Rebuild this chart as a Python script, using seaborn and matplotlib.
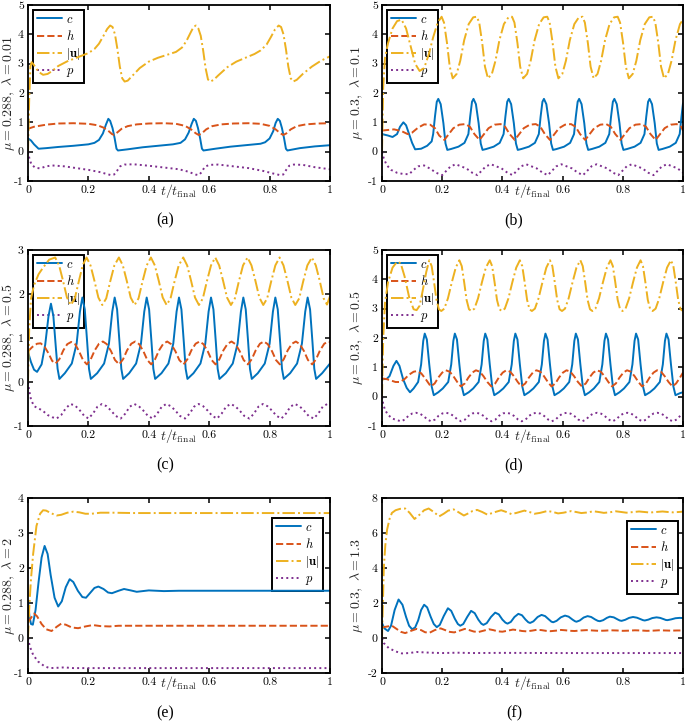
import matplotlib
matplotlib.use("Agg")
import matplotlib.pyplot as plt
import seaborn as sns

# ---------------- data ----------------
# (a) mu = 0.288, lambda = 0.01
a_c_t = [0, 0.01, 0.02, 0.035, 0.06, 0.1, 0.15, 0.2, 0.22, 0.235, 0.248, 0.258, 0.266, 0.272, 0.28, 0.287,
         0.293, 0.298, 0.33, 0.38, 0.43, 0.48, 0.505, 0.52, 0.532, 0.542, 0.549, 0.556, 0.563, 0.57, 0.576,
         0.581, 0.62, 0.67, 0.72, 0.77, 0.785, 0.8, 0.812, 0.82, 0.827, 0.834, 0.841, 0.848, 0.854, 0.859,
         0.9, 0.95, 1.0]
a_c = [0.45, 0.38, 0.25, 0.1, 0.12, 0.16, 0.2, 0.25, 0.3, 0.4, 0.62, 0.92, 1.12, 1.05, 0.8, 0.45,
       0.1, 0.04, 0.08, 0.15, 0.2, 0.25, 0.3, 0.42, 0.65, 0.95, 1.12, 1.05, 0.8, 0.45, 0.1,
       0.04, 0.1, 0.17, 0.22, 0.27, 0.32, 0.45, 0.7, 0.98, 1.12, 1.05, 0.8, 0.45, 0.1, 0.04,
       0.12, 0.18, 0.22]
a_h_t = [0, 0.02, 0.06, 0.1, 0.15, 0.2, 0.23, 0.25, 0.265, 0.278, 0.285, 0.295, 0.31, 0.33, 0.36, 0.4,
         0.45, 0.49, 0.52, 0.54, 0.555, 0.565, 0.575, 0.59, 0.61, 0.64, 0.68, 0.73, 0.77, 0.8, 0.82,
         0.835, 0.845, 0.855, 0.87, 0.89, 0.92, 0.96, 1.0]
a_h = [0.78, 0.85, 0.92, 0.96, 0.97, 0.95, 0.9, 0.82, 0.72, 0.6, 0.57, 0.65, 0.78, 0.87, 0.93, 0.96,
       0.97, 0.95, 0.88, 0.76, 0.63, 0.57, 0.62, 0.76, 0.87, 0.93, 0.96, 0.97, 0.95, 0.88, 0.76,
       0.63, 0.57, 0.62, 0.76, 0.87, 0.93, 0.96, 0.97]
a_u_t = [0, 0.004, 0.008, 0.012, 0.02, 0.035, 0.05, 0.065, 0.08, 0.1, 0.13, 0.17, 0.2, 0.22, 0.235, 0.25,
         0.262, 0.272, 0.28, 0.288, 0.296, 0.304, 0.312, 0.32, 0.33, 0.345, 0.37, 0.4, 0.43, 0.46, 0.49,
         0.51, 0.525, 0.538, 0.548, 0.556, 0.564, 0.572, 0.58, 0.588, 0.596, 0.604, 0.615, 0.63, 0.66,
         0.69, 0.72, 0.75, 0.77, 0.79, 0.805, 0.818, 0.83, 0.838, 0.846, 0.854, 0.862, 0.87, 0.878, 0.89,
         0.91, 0.94, 0.97, 1.0]
a_u = [0, 1.8, 2.9, 3.05, 2.95, 2.72, 2.62, 2.65, 2.75, 2.92, 3.08, 3.24, 3.36, 3.5, 3.68, 3.95,
       4.18, 4.3, 4.25, 4.0, 3.5, 2.9, 2.5, 2.39, 2.42, 2.58, 2.85, 3.07, 3.2, 3.3, 3.4,
       3.55, 3.78, 4.05, 4.25, 4.3, 4.2, 3.95, 3.45, 2.85, 2.46, 2.39, 2.45, 2.6, 2.88,
       3.07, 3.2, 3.33, 3.45, 3.65, 3.92, 4.17, 4.3, 4.25, 4.0, 3.5, 2.9, 2.5, 2.39, 2.45,
       2.65, 2.9, 3.1, 3.25]
a_p_t = [0, 0.005, 0.012, 0.025, 0.04, 0.06, 0.08, 0.12, 0.16, 0.2, 0.24, 0.26, 0.275, 0.285, 0.295,
         0.305, 0.32, 0.35, 0.4, 0.45, 0.5, 0.53, 0.555, 0.565, 0.575, 0.585, 0.6, 0.63, 0.68, 0.73,
         0.78, 0.81, 0.835, 0.845, 0.855, 0.865, 0.88, 0.91, 0.95, 1.0]
a_p = [0, -0.25, -0.45, -0.55, -0.57, -0.5, -0.47, -0.5, -0.56, -0.62, -0.7, -0.76, -0.8, -0.78, -0.65,
       -0.5, -0.44, -0.43, -0.48, -0.54, -0.6, -0.68, -0.78, -0.8, -0.7, -0.52, -0.45, -0.44, -0.5, -0.56,
       -0.66, -0.74, -0.8, -0.78, -0.62, -0.48, -0.44, -0.45, -0.53, -0.6]

# (b) mu = 0.3, lambda = 0.1
b_c_t = [0, 0.02, 0.035, 0.05, 0.06, 0.071, 0.08, 0.09, 0.1, 0.11, 0.13, 0.15, 0.165, 0.17, 0.176, 0.182,
         0.187, 0.195, 0.204, 0.211, 0.217,
         0.229, 0.254, 0.274, 0.287, 0.293, 0.299, 0.304, 0.312, 0.321, 0.328, 0.334,
         0.346, 0.371, 0.391, 0.404, 0.41, 0.416, 0.421, 0.429, 0.438, 0.445, 0.451,
         0.463, 0.488, 0.508, 0.521, 0.527, 0.533, 0.538, 0.546, 0.555, 0.562, 0.568,
         0.58, 0.605, 0.625, 0.638, 0.644, 0.65, 0.655, 0.663, 0.672, 0.679, 0.685,
         0.697, 0.722, 0.742, 0.755, 0.761, 0.767, 0.772, 0.78, 0.789, 0.796, 0.802,
         0.814, 0.839, 0.859, 0.872, 0.878, 0.884, 0.889, 0.897, 0.906, 0.913, 0.919,
         0.931, 0.956, 0.976, 0.989, 0.995, 1.0]
b_c = [0.6, 0.55, 0.5, 0.6, 0.85, 1.0, 0.9, 0.6, 0.3, 0.08, 0.1, 0.2, 0.35, 0.6, 1.2, 1.7,
       1.8, 1.62, 0.97, 0.28, 0.06,
       0.09, 0.17, 0.3, 0.6, 1.2, 1.7, 1.8, 1.62, 0.97, 0.28, 0.06,
       0.09, 0.17, 0.3, 0.6, 1.2, 1.7, 1.8, 1.62, 0.97, 0.28, 0.06,
       0.09, 0.17, 0.3, 0.6, 1.2, 1.7, 1.8, 1.62, 0.97, 0.28, 0.06,
       0.09, 0.17, 0.3, 0.6, 1.2, 1.7, 1.8, 1.62, 0.97, 0.28, 0.06,
       0.09, 0.17, 0.3, 0.6, 1.2, 1.7, 1.8, 1.62, 0.97, 0.28, 0.06,
       0.09, 0.17, 0.3, 0.6, 1.2, 1.7, 1.8, 1.62, 0.97, 0.28, 0.06,
       0.09, 0.17, 0.3, 0.6, 1.2, 1.65]
b_h_t = [0, 0.04, 0.065, 0.085, 0.1, 0.12, 0.14, 0.16, 0.176, 0.19,
         0.207, 0.222, 0.237, 0.257, 0.277, 0.292, 0.307,
         0.324, 0.339, 0.354, 0.374, 0.394, 0.409, 0.424,
         0.441, 0.456, 0.471, 0.491, 0.511, 0.526, 0.541,
         0.558, 0.573, 0.588, 0.608, 0.628, 0.643, 0.658,
         0.675, 0.69, 0.705, 0.725, 0.745, 0.76, 0.775,
         0.792, 0.807, 0.822, 0.842, 0.862, 0.877, 0.892,
         0.909, 0.924, 0.939, 0.959, 0.979, 0.994, 1.0]
b_h = [0.72, 0.76, 0.7, 0.6, 0.65, 0.82, 0.93, 0.92, 0.8, 0.55,
       0.4, 0.6, 0.8, 0.92, 0.94, 0.85, 0.6,
       0.4, 0.6, 0.8, 0.92, 0.94, 0.85, 0.6,
       0.4, 0.6, 0.8, 0.92, 0.94, 0.85, 0.6,
       0.4, 0.6, 0.8, 0.92, 0.94, 0.85, 0.6,
       0.4, 0.6, 0.8, 0.92, 0.94, 0.85, 0.6,
       0.4, 0.6, 0.8, 0.92, 0.94, 0.85, 0.6,
       0.4, 0.6, 0.8, 0.92, 0.94, 0.85, 0.72]
b_u_t = [0, 0.004, 0.01, 0.02, 0.035, 0.05, 0.065, 0.08, 0.095, 0.11, 0.125, 0.14, 0.155, 0.17, 0.185,
         0.198, 0.206, 0.216, 0.225, 0.235, 0.248, 0.26, 0.273, 0.288, 0.303,
         0.315, 0.323, 0.333, 0.342, 0.352, 0.365, 0.377, 0.39, 0.405, 0.42,
         0.432, 0.44, 0.45, 0.459, 0.469, 0.482, 0.494, 0.507, 0.522, 0.537,
         0.549, 0.557, 0.567, 0.576, 0.586, 0.599, 0.611, 0.624, 0.639, 0.654,
         0.666, 0.674, 0.684, 0.693, 0.703, 0.716, 0.728, 0.741, 0.756, 0.771,
         0.783, 0.791, 0.801, 0.81, 0.82, 0.833, 0.845, 0.858, 0.873, 0.888,
         0.9, 0.908, 0.918, 0.927, 0.937, 0.95, 0.962, 0.975, 0.99, 1.0]
b_u = [0, 2.2, 3.2, 3.7, 4.2, 4.45, 4.5, 4.2, 3.6, 3.0, 2.75, 2.85, 3.3, 3.9, 4.4,
       4.6, 4.4, 3.7, 2.9, 2.5, 2.65, 3.1, 3.8, 4.35, 4.58,
       4.6, 4.4, 3.7, 2.9, 2.5, 2.65, 3.1, 3.8, 4.35, 4.58,
       4.6, 4.4, 3.7, 2.9, 2.5, 2.65, 3.1, 3.8, 4.35, 4.58,
       4.6, 4.4, 3.7, 2.9, 2.5, 2.65, 3.1, 3.8, 4.35, 4.58,
       4.6, 4.4, 3.7, 2.9, 2.5, 2.65, 3.1, 3.8, 4.35, 4.58,
       4.6, 4.4, 3.7, 2.9, 2.5, 2.65, 3.1, 3.8, 4.35, 4.58,
       4.6, 4.4, 3.7, 2.9, 2.5, 2.65, 3.1, 3.8, 4.35, 4.5]
b_p_t = [0, 0.005, 0.015, 0.03, 0.05, 0.07, 0.09, 0.105, 0.12, 0.14, 0.16, 0.18,
         0.2, 0.228, 0.245, 0.28, 0.3,
         0.317, 0.345, 0.362, 0.397, 0.417,
         0.434, 0.462, 0.479, 0.514, 0.534,
         0.551, 0.579, 0.596, 0.631, 0.651,
         0.668, 0.696, 0.713, 0.748, 0.768,
         0.785, 0.813, 0.83, 0.865, 0.885,
         0.902, 0.93, 0.947, 0.982, 1.0]
b_p = [0, -0.2, -0.45, -0.62, -0.72, -0.76, -0.77, -0.62, -0.5, -0.47, -0.58, -0.72,
       -0.8, -0.5, -0.43, -0.57, -0.72,
       -0.8, -0.5, -0.43, -0.57, -0.72,
       -0.8, -0.5, -0.43, -0.57, -0.72,
       -0.8, -0.5, -0.43, -0.57, -0.72,
       -0.8, -0.5, -0.43, -0.57, -0.72,
       -0.8, -0.5, -0.43, -0.57, -0.72,
       -0.8, -0.5, -0.43, -0.57, -0.72]

# (c) mu = 0.288, lambda = 0.5
c_c_t = [0, 0.01, 0.02, 0.03, 0.045, 0.057, 0.068, 0.076, 0.084, 0.092, 0.098, 0.104,
         0.122, 0.145, 0.161, 0.172, 0.18, 0.188, 0.196, 0.202, 0.208,
         0.229, 0.252, 0.268, 0.279, 0.287, 0.295, 0.303, 0.309, 0.315,
         0.335, 0.358, 0.374, 0.385, 0.393, 0.401, 0.409, 0.415, 0.421,
         0.442, 0.465, 0.481, 0.492, 0.5, 0.508, 0.516, 0.522, 0.528,
         0.548, 0.571, 0.587, 0.598, 0.606, 0.614, 0.622, 0.628, 0.634,
         0.655, 0.678, 0.694, 0.705, 0.713, 0.721, 0.729, 0.735, 0.741,
         0.761, 0.784, 0.8, 0.811, 0.819, 0.827, 0.835, 0.841, 0.847,
         0.868, 0.891, 0.907, 0.918, 0.926, 0.934, 0.942, 0.948, 0.954,
         0.974, 1.0]
c_c = [0.68, 0.45, 0.28, 0.23, 0.4, 0.85, 1.5, 1.78, 1.5, 0.8, 0.3, 0.07,
       0.2, 0.42, 0.87, 1.6, 1.92, 1.65, 0.9, 0.3, 0.07,
       0.2, 0.42, 0.87, 1.6, 1.92, 1.65, 0.9, 0.3, 0.07,
       0.2, 0.42, 0.87, 1.6, 1.92, 1.65, 0.9, 0.3, 0.07,
       0.2, 0.42, 0.87, 1.6, 1.92, 1.65, 0.9, 0.3, 0.07,
       0.2, 0.42, 0.87, 1.6, 1.92, 1.65, 0.9, 0.3, 0.07,
       0.2, 0.42, 0.87, 1.6, 1.92, 1.65, 0.9, 0.3, 0.07,
       0.2, 0.42, 0.87, 1.6, 1.92, 1.65, 0.9, 0.3, 0.07,
       0.2, 0.42, 0.87, 1.6, 1.92, 1.65, 0.9, 0.3, 0.07,
       0.2, 0.42]
c_h_t = [0, 0.015, 0.03, 0.042, 0.055, 0.068, 0.08, 0.091, 0.104, 0.117, 0.13, 0.143, 0.156, 0.169, 0.182,
         0.195, 0.208, 0.221, 0.235, 0.248, 0.261, 0.275, 0.288,
         0.302, 0.315, 0.328, 0.342, 0.355, 0.368, 0.382, 0.395,
         0.408, 0.421, 0.434, 0.448, 0.461, 0.474, 0.488, 0.501,
         0.515, 0.528, 0.541, 0.555, 0.568, 0.581, 0.595, 0.608,
         0.621, 0.634, 0.647, 0.661, 0.674, 0.687, 0.701, 0.714,
         0.728, 0.741, 0.754, 0.768, 0.781, 0.794, 0.808, 0.821,
         0.834, 0.847, 0.86, 0.874, 0.887, 0.9, 0.914, 0.927,
         0.941, 0.954, 0.967, 0.981, 0.994, 1.0]
c_h = [0.7, 0.8, 0.87, 0.88, 0.8, 0.65, 0.48, 0.42, 0.52, 0.72, 0.86, 0.91, 0.86, 0.7, 0.5,
       0.4, 0.52, 0.72, 0.87, 0.92, 0.86, 0.7, 0.5,
       0.4, 0.52, 0.72, 0.87, 0.92, 0.86, 0.7, 0.5,
       0.4, 0.52, 0.72, 0.87, 0.92, 0.86, 0.7, 0.5,
       0.4, 0.52, 0.72, 0.87, 0.92, 0.86, 0.7, 0.5,
       0.4, 0.52, 0.72, 0.87, 0.92, 0.86, 0.7, 0.5,
       0.4, 0.52, 0.72, 0.87, 0.92, 0.86, 0.7, 0.5,
       0.4, 0.52, 0.72, 0.87, 0.92, 0.86, 0.7, 0.5,
       0.4, 0.52, 0.72, 0.87, 0.92, 0.91]
c_u_t = [0, 0.004, 0.01, 0.02, 0.035, 0.05, 0.07, 0.09, 0.103, 0.116, 0.129, 0.142, 0.155, 0.168, 0.181,
         0.194, 0.207, 0.22, 0.233, 0.246, 0.259, 0.272, 0.286,
         0.301, 0.314, 0.327, 0.34, 0.353, 0.366, 0.379, 0.393,
         0.407, 0.42, 0.433, 0.446, 0.459, 0.472, 0.485, 0.499,
         0.514, 0.527, 0.54, 0.553, 0.566, 0.579, 0.592, 0.606,
         0.62, 0.633, 0.646, 0.659, 0.672, 0.685, 0.698, 0.712,
         0.727, 0.74, 0.753, 0.766, 0.779, 0.792, 0.805, 0.819,
         0.833, 0.846, 0.859, 0.872, 0.885, 0.898, 0.911, 0.925,
         0.94, 0.953, 0.966, 0.979, 0.99, 1.0]
c_u = [0, 1.2, 1.9, 2.2, 2.45, 2.6, 2.78, 2.83, 2.65, 2.3, 1.92, 1.75, 1.9, 2.28, 2.65,
       2.83, 2.65, 2.3, 1.92, 1.75, 1.9, 2.28, 2.65,
       2.83, 2.65, 2.3, 1.92, 1.75, 1.9, 2.28, 2.65,
       2.83, 2.65, 2.3, 1.92, 1.75, 1.9, 2.28, 2.65,
       2.83, 2.65, 2.3, 1.92, 1.75, 1.9, 2.28, 2.65,
       2.83, 2.65, 2.3, 1.92, 1.75, 1.9, 2.28, 2.65,
       2.83, 2.65, 2.3, 1.92, 1.75, 1.9, 2.28, 2.65,
       2.83, 2.65, 2.3, 1.92, 1.75, 1.9, 2.28, 2.65,
       2.83, 2.65, 2.3, 1.9, 1.76, 1.95]
c_p_t = [0, 0.004, 0.01, 0.02, 0.035, 0.05, 0.065, 0.08, 0.095, 0.11, 0.125, 0.14, 0.155, 0.17, 0.185,
         0.2, 0.215, 0.23, 0.245, 0.26, 0.275, 0.29,
         0.307, 0.322, 0.337, 0.352, 0.367, 0.382, 0.397,
         0.413, 0.428, 0.443, 0.458, 0.473, 0.488, 0.503,
         0.52, 0.535, 0.55, 0.565, 0.58, 0.595, 0.61,
         0.626, 0.641, 0.656, 0.671, 0.686, 0.701, 0.716,
         0.733, 0.748, 0.763, 0.778, 0.793, 0.808, 0.823,
         0.839, 0.854, 0.869, 0.884, 0.899, 0.914, 0.929,
         0.946, 0.961, 0.976, 0.991, 1.0]
c_p = [0, -0.2, -0.4, -0.55, -0.6, -0.66, -0.75, -0.8, -0.83, -0.75, -0.6, -0.5, -0.53, -0.63, -0.76,
       -0.83, -0.72, -0.56, -0.5, -0.55, -0.65, -0.77,
       -0.83, -0.72, -0.56, -0.5, -0.55, -0.65, -0.77,
       -0.83, -0.72, -0.56, -0.5, -0.55, -0.65, -0.77,
       -0.83, -0.72, -0.56, -0.5, -0.55, -0.65, -0.77,
       -0.83, -0.72, -0.56, -0.5, -0.55, -0.65, -0.77,
       -0.83, -0.72, -0.56, -0.5, -0.55, -0.65, -0.77,
       -0.83, -0.72, -0.56, -0.5, -0.55, -0.65, -0.77,
       -0.83, -0.72, -0.56, -0.5, -0.53]

# (d) mu = 0.3, lambda = 0.5
d_c_t = [0, 0.015, 0.025, 0.038, 0.048, 0.058, 0.07, 0.082, 0.093, 0.105, 0.12, 0.13, 0.137,
         0.142, 0.149, 0.157, 0.165, 0.172,
         0.187, 0.202, 0.22, 0.23, 0.237, 0.242, 0.249, 0.257, 0.265, 0.272,
         0.288, 0.303, 0.321, 0.331, 0.338, 0.343, 0.35, 0.358, 0.366, 0.373,
         0.388, 0.403, 0.421, 0.431, 0.438, 0.443, 0.45, 0.458, 0.466, 0.473,
         0.488, 0.503, 0.521, 0.531, 0.538, 0.543, 0.55, 0.558, 0.566, 0.573,
         0.589, 0.604, 0.622, 0.632, 0.639, 0.644, 0.651, 0.659, 0.667, 0.674,
         0.689, 0.704, 0.722, 0.732, 0.739, 0.744, 0.751, 0.759, 0.767, 0.774,
         0.789, 0.804, 0.822, 0.832, 0.839, 0.844, 0.851, 0.859, 0.867, 0.874,
         0.89, 0.905, 0.923, 0.933, 0.94, 0.945, 0.952, 0.96, 0.968, 0.975,
         0.99, 1.0]
d_c = [0.6, 0.6, 0.7, 1.05, 1.22, 1.05, 0.6, 0.3, 0.15, 0.28, 0.5, 1.1, 1.9,
       2.15, 1.95, 1.1, 0.35, 0.05,
       0.15, 0.28, 0.5, 1.1, 1.9, 2.15, 1.95, 1.1, 0.35, 0.05,
       0.15, 0.28, 0.5, 1.1, 1.9, 2.15, 1.95, 1.1, 0.35, 0.05,
       0.15, 0.28, 0.5, 1.1, 1.9, 2.15, 1.95, 1.1, 0.35, 0.05,
       0.15, 0.28, 0.5, 1.1, 1.9, 2.15, 1.95, 1.1, 0.35, 0.05,
       0.15, 0.28, 0.5, 1.1, 1.9, 2.15, 1.95, 1.1, 0.35, 0.05,
       0.15, 0.28, 0.5, 1.1, 1.9, 2.15, 1.95, 1.1, 0.35, 0.05,
       0.15, 0.28, 0.5, 1.1, 1.9, 2.15, 1.95, 1.1, 0.35, 0.05,
       0.15, 0.28, 0.5, 1.1, 1.9, 2.15, 1.95, 1.1, 0.35, 0.05,
       0.12, 0.15]
d_h_t = [0, 0.015, 0.03, 0.045, 0.06, 0.075, 0.09, 0.105, 0.115, 0.13, 0.145,
         0.162, 0.175, 0.187, 0.2, 0.212, 0.225, 0.237, 0.25,
         0.262, 0.275, 0.287, 0.3, 0.312, 0.325, 0.337, 0.35,
         0.363, 0.376, 0.388, 0.401, 0.413, 0.426, 0.438, 0.451,
         0.463, 0.476, 0.488, 0.501, 0.513, 0.526, 0.538, 0.551,
         0.563, 0.576, 0.588, 0.601, 0.613, 0.626, 0.638, 0.651,
         0.664, 0.677, 0.689, 0.702, 0.714, 0.727, 0.739, 0.752,
         0.764, 0.777, 0.789, 0.802, 0.814, 0.827, 0.839, 0.852,
         0.864, 0.877, 0.889, 0.902, 0.914, 0.927, 0.939, 0.952,
         0.965, 0.977, 0.99, 1.0]
d_h = [0.62, 0.6, 0.55, 0.5, 0.5, 0.6, 0.75, 0.85, 0.87, 0.8, 0.6,
       0.35, 0.45, 0.65, 0.82, 0.9, 0.85, 0.7, 0.5,
       0.35, 0.45, 0.65, 0.82, 0.9, 0.85, 0.7, 0.5,
       0.35, 0.45, 0.65, 0.82, 0.9, 0.85, 0.7, 0.5,
       0.35, 0.45, 0.65, 0.82, 0.9, 0.85, 0.7, 0.5,
       0.35, 0.45, 0.65, 0.82, 0.9, 0.85, 0.7, 0.5,
       0.35, 0.45, 0.65, 0.82, 0.9, 0.85, 0.7, 0.5,
       0.35, 0.45, 0.65, 0.82, 0.9, 0.85, 0.7, 0.5,
       0.35, 0.45, 0.65, 0.82, 0.9, 0.85, 0.7, 0.5,
       0.35, 0.45, 0.65, 0.82]
d_u_t = [0, 0.004, 0.01, 0.02, 0.035, 0.05, 0.062, 0.075, 0.09, 0.105, 0.115, 0.125, 0.135, 0.147,
         0.157, 0.165, 0.173, 0.181, 0.189, 0.197, 0.207, 0.219, 0.232, 0.245,
         0.257, 0.265, 0.273, 0.281, 0.289, 0.297, 0.307, 0.319, 0.332, 0.345,
         0.358, 0.366, 0.374, 0.382, 0.39, 0.398, 0.408, 0.42, 0.433, 0.446,
         0.458, 0.466, 0.474, 0.482, 0.49, 0.498, 0.508, 0.52, 0.533, 0.546,
         0.558, 0.566, 0.574, 0.582, 0.59, 0.598, 0.608, 0.62, 0.633, 0.646,
         0.659, 0.667, 0.675, 0.683, 0.691, 0.699, 0.709, 0.721, 0.734, 0.747,
         0.759, 0.767, 0.775, 0.783, 0.791, 0.799, 0.809, 0.821, 0.834, 0.847,
         0.859, 0.867, 0.875, 0.883, 0.891, 0.899, 0.909, 0.921, 0.934, 0.947,
         0.96, 0.968, 0.976, 0.984, 0.992, 1.0]
d_u = [0, 2.0, 3.2, 3.9, 4.4, 4.6, 4.55, 4.1, 3.4, 2.98, 2.95, 3.1, 3.6, 4.25,
       4.65, 4.45, 3.9, 3.3, 2.98, 2.92, 3.0, 3.35, 3.9, 4.4,
       4.65, 4.45, 3.9, 3.3, 2.98, 2.92, 3.0, 3.35, 3.9, 4.4,
       4.65, 4.45, 3.9, 3.3, 2.98, 2.92, 3.0, 3.35, 3.9, 4.4,
       4.65, 4.45, 3.9, 3.3, 2.98, 2.92, 3.0, 3.35, 3.9, 4.4,
       4.65, 4.45, 3.9, 3.3, 2.98, 2.92, 3.0, 3.35, 3.9, 4.4,
       4.65, 4.45, 3.9, 3.3, 2.98, 2.92, 3.0, 3.35, 3.9, 4.4,
       4.65, 4.45, 3.9, 3.3, 2.98, 2.92, 3.0, 3.35, 3.9, 4.4,
       4.65, 4.45, 3.9, 3.3, 2.98, 2.92, 3.0, 3.35, 3.9, 4.4,
       4.65, 4.45, 3.9, 3.3, 2.98, 2.92]
d_p_t = [0, 0.004, 0.01, 0.02, 0.035, 0.05,
         0.063, 0.076, 0.088, 0.101, 0.113, 0.126, 0.138, 0.151,
         0.163, 0.176, 0.188, 0.201, 0.213, 0.226, 0.238, 0.251,
         0.263, 0.276, 0.288, 0.301, 0.313, 0.326, 0.338, 0.351,
         0.364, 0.377, 0.389, 0.402, 0.414, 0.427, 0.439, 0.452,
         0.464, 0.477, 0.489, 0.502, 0.514, 0.527, 0.539, 0.552,
         0.564, 0.577, 0.589, 0.602, 0.614, 0.627, 0.639, 0.652,
         0.665, 0.678, 0.69, 0.703, 0.715, 0.728, 0.74, 0.753,
         0.765, 0.778, 0.79, 0.803, 0.815, 0.828, 0.84, 0.853,
         0.865, 0.878, 0.89, 0.903, 0.915, 0.928, 0.94, 0.953,
         0.966, 0.979, 0.991, 1.0]
d_p = [0, -0.25, -0.45, -0.62, -0.75, -0.8,
       -0.84, -0.78, -0.65, -0.57, -0.55, -0.58, -0.66, -0.78,
       -0.84, -0.78, -0.65, -0.57, -0.55, -0.58, -0.66, -0.78,
       -0.84, -0.78, -0.65, -0.57, -0.55, -0.58, -0.66, -0.78,
       -0.84, -0.78, -0.65, -0.57, -0.55, -0.58, -0.66, -0.78,
       -0.84, -0.78, -0.65, -0.57, -0.55, -0.58, -0.66, -0.78,
       -0.84, -0.78, -0.65, -0.57, -0.55, -0.58, -0.66, -0.78,
       -0.84, -0.78, -0.65, -0.57, -0.55, -0.58, -0.66, -0.78,
       -0.84, -0.78, -0.65, -0.57, -0.55, -0.58, -0.66, -0.78,
       -0.84, -0.78, -0.65, -0.57, -0.55, -0.58, -0.66, -0.78,
       -0.84, -0.78, -0.65, -0.58]

# (e) mu = 0.288, lambda = 2
e_c_t = [0, 0.005, 0.01, 0.016, 0.025, 0.035, 0.045, 0.055, 0.065, 0.075, 0.088, 0.1, 0.112, 0.125,
         0.138, 0.15, 0.165, 0.18, 0.192, 0.205, 0.22, 0.233, 0.25, 0.265, 0.278, 0.3, 0.318, 0.34,
         0.36, 0.4, 0.45, 0.5, 0.6, 0.7, 0.8, 0.9, 1.0]
e_c = [1.05, 0.6, 0.4, 0.38, 0.8, 1.6, 2.3, 2.63, 2.4, 1.8, 1.15, 0.9, 1.05, 1.45,
       1.68, 1.6, 1.35, 1.17, 1.15, 1.28, 1.43, 1.47, 1.4, 1.3, 1.28, 1.35, 1.4, 1.36,
       1.32, 1.36, 1.34, 1.35, 1.35, 1.35, 1.35, 1.35, 1.35]
e_h_t = [0, 0.008, 0.02, 0.03, 0.045, 0.06, 0.078, 0.095, 0.11, 0.125, 0.145, 0.166, 0.19, 0.215,
         0.24, 0.27, 0.3, 0.4, 0.6, 0.8, 1.0]
e_h = [0.45, 0.55, 0.7, 0.62, 0.4, 0.25, 0.2, 0.32, 0.41, 0.38, 0.3, 0.28, 0.33, 0.37,
       0.34, 0.33, 0.35, 0.35, 0.35, 0.35, 0.35]
e_u_t = [0, 0.005, 0.01, 0.017, 0.028, 0.04, 0.05, 0.06, 0.075, 0.095, 0.11, 0.13, 0.15, 0.17,
         0.19, 0.21, 0.24, 0.28, 0.35, 0.5, 0.7, 1.0]
e_u = [0, 1.0, 1.7, 2.4, 3.2, 3.55, 3.65, 3.64, 3.57, 3.5, 3.52, 3.58, 3.61, 3.59,
       3.55, 3.55, 3.58, 3.58, 3.57, 3.57, 3.57, 3.57]
e_p_t = [0, 0.006, 0.017, 0.033, 0.055, 0.072, 0.1, 0.12, 0.15, 0.2, 0.4, 0.7, 1.0]
e_p = [0, -0.24, -0.48, -0.67, -0.81, -0.86, -0.85, -0.84, -0.86, -0.86, -0.86, -0.86, -0.86]

# (f) mu = 0.3, lambda = 1.3
f_c_t = [0, 0.008, 0.02, 0.03, 0.042, 0.055, 0.068, 0.08, 0.09, 0.1,
         0.11, 0.12, 0.13, 0.14, 0.15, 0.162, 0.172, 0.182, 0.192, 0.205,
         0.219, 0.23, 0.242, 0.252, 0.26, 0.27, 0.283, 0.296, 0.308, 0.32,
         0.33, 0.337, 0.348, 0.362, 0.376, 0.388, 0.4, 0.41, 0.417, 0.428,
         0.44, 0.453, 0.465, 0.477, 0.486, 0.492, 0.503, 0.517, 0.53, 0.542,
         0.555, 0.563, 0.569, 0.58, 0.594, 0.608, 0.62, 0.633, 0.641, 0.646,
         0.657, 0.67, 0.683, 0.695, 0.708, 0.717, 0.724, 0.735, 0.747, 0.757,
         0.77, 0.783, 0.79, 0.796, 0.808, 0.821, 0.834, 0.847, 0.86, 0.867,
         0.873, 0.885, 0.898, 0.912, 0.924, 0.937, 0.943, 0.948, 0.96, 0.975,
         0.989, 1.0]
f_c = [0.85, 0.55, 0.4, 0.7, 1.6, 2.2, 1.9, 1.2, 0.7, 0.5,
       0.6, 1.0, 1.6, 1.9, 1.75, 1.2, 0.8, 0.62, 0.75, 1.25,
       1.7, 1.55, 1.1, 0.8, 0.7, 0.8, 1.2, 1.55, 1.42, 1.05,
       0.82, 0.75, 0.85, 1.2, 1.45, 1.35, 1.05, 0.88, 0.82, 0.92,
       1.2, 1.38, 1.3, 1.05, 0.9, 0.86, 0.95, 1.2, 1.32, 1.25,
       1.05, 0.93, 0.9, 0.98, 1.18, 1.28, 1.22, 1.05, 0.96, 0.93,
       1.0, 1.17, 1.25, 1.2, 1.06, 0.98, 0.96, 1.02, 1.15, 1.22,
       1.18, 1.06, 1.0, 0.98, 1.04, 1.15, 1.2, 1.16, 1.07, 1.02,
       1.0, 1.05, 1.14, 1.18, 1.15, 1.07, 1.03, 1.02, 1.06, 1.13,
       1.15, 1.14]
f_h_t = [0, 0.015, 0.033, 0.05, 0.063, 0.077, 0.095, 0.115, 0.13, 0.143,
         0.158, 0.175, 0.195, 0.21, 0.225, 0.24, 0.258, 0.275, 0.29, 0.305,
         0.32, 0.338, 0.355, 0.37, 0.385, 0.4, 0.418, 0.435, 0.45, 0.465,
         0.48, 0.498, 0.515, 0.53, 0.545, 0.56, 0.578, 0.595, 0.61, 0.625,
         0.64, 0.66, 0.68, 0.7, 0.72, 0.74, 0.76, 0.78, 0.8, 0.82,
         0.84, 0.86, 0.88, 0.9, 0.92, 0.94, 0.96, 0.98, 1.0]
f_h = [0.6, 0.65, 0.7, 0.5, 0.35, 0.28, 0.4, 0.52, 0.45, 0.33,
       0.3, 0.45, 0.55, 0.45, 0.35, 0.32, 0.42, 0.52, 0.45, 0.37,
       0.34, 0.42, 0.5, 0.45, 0.38, 0.36, 0.42, 0.48, 0.45, 0.4,
       0.38, 0.42, 0.47, 0.45, 0.41, 0.39, 0.42, 0.46, 0.44, 0.41,
       0.4, 0.43, 0.45, 0.43, 0.41, 0.42, 0.44, 0.43, 0.41, 0.42,
       0.44, 0.43, 0.41, 0.42, 0.44, 0.43, 0.42, 0.43, 0.43]
f_u_t = [0, 0.003, 0.006, 0.011, 0.017, 0.025, 0.033, 0.045, 0.06, 0.077,
         0.092, 0.108, 0.125, 0.14, 0.155, 0.172, 0.19, 0.205, 0.22, 0.238,
         0.255, 0.272, 0.29, 0.3, 0.316, 0.333, 0.35, 0.368, 0.38, 0.396,
         0.413, 0.43, 0.447, 0.473, 0.49, 0.507, 0.525, 0.55, 0.568, 0.585,
         0.603, 0.628, 0.645, 0.662, 0.68, 0.703, 0.72, 0.737, 0.755, 0.777,
         0.795, 0.812, 0.83, 0.854, 0.872, 0.89, 0.91, 0.932, 0.95, 0.967,
         0.985, 1.0]
f_u = [0, 2.0, 4.0, 5.3, 6.2, 6.8, 7.15, 7.3, 7.38, 7.4,
       7.15, 6.8, 7.05, 7.3, 7.4, 7.2, 6.95, 7.1, 7.28, 7.35,
       7.18, 7.0, 7.15, 7.25, 7.32, 7.2, 7.05, 7.15, 7.22, 7.3,
       7.2, 7.08, 7.15, 7.28, 7.2, 7.1, 7.15, 7.26, 7.2, 7.12,
       7.16, 7.25, 7.2, 7.14, 7.17, 7.24, 7.2, 7.15, 7.18, 7.24,
       7.2, 7.16, 7.19, 7.23, 7.2, 7.17, 7.2, 7.23, 7.2, 7.18,
       7.2, 7.22]
f_p_t = [0, 0.006, 0.022, 0.044, 0.066, 0.09, 0.115, 0.16, 0.2, 0.25, 0.3, 0.4, 0.6, 0.8, 1.0]
f_p = [0, -0.29, -0.57, -0.76, -0.88, -0.86, -0.8, -0.84, -0.86, -0.84, -0.86, -0.85, -0.86, -0.86, -0.86]

series_labels = [r"$c$", r"$h$", r"$|\mathbf{u}|$", r"$p$"]
x_ticks = [0, 0.2, 0.4, 0.6, 0.8, 1]
x_ticklabels = ["0", "0.2", "0.4", "0.6", "0.8", "1"]

# ---------------- style ----------------
sns.set_style("ticks")
plt.rcParams.update({
    "font.family": ["cmr10", "DejaVu Serif"],
    "mathtext.fontset": "cm",
    "axes.formatter.use_mathtext": True,
    "axes.edgecolor": "black",
    "axes.linewidth": 1.3,
    "text.color": "black",
    "xtick.color": "black",
    "ytick.color": "black",
    "xtick.direction": "in",
    "ytick.direction": "in",
    "xtick.top": True,
    "ytick.right": True,
})

colors = ["#0072BD", "#D95319", "#EDB120", "#7E2F8E"]
styles = ["-", "--", "-.", ":"]

W, H = 685, 721
fig = plt.figure(figsize=(W / 100, H / 100), dpi=100)


def make_ax(l, t, r, b):
    return fig.add_axes([l / W, 1 - b / H, (r - l) / W, (b - t) / H])


def panel(ax, data, ylim, yticks, ylabel, ylab_x, leg_loc, leg_anchor):
    for (t, v), lab, col, ls in zip(data, series_labels, colors, styles):
        sns.lineplot(x=t, y=v, ax=ax, color=col, linestyle=ls, linewidth=1.4, label=lab)
    ax.set_xlim(0, 1)
    ax.set_ylim(*ylim)
    ax.set_xticks(x_ticks, labels=x_ticklabels)
    ax.set_yticks(yticks, labels=[str(y) for y in yticks])
    ax.tick_params(length=3.5, width=1.1, labelsize=8.5, pad=3)
    ax.set_xlabel(r"$t/t_{\mathrm{final}}$", fontsize=10)
    ax.xaxis.set_label_coords(0.5, -0.008)
    ax.set_ylabel(ylabel, fontsize=10)
    ax.yaxis.set_label_coords(ylab_x, 0.5)
    leg = ax.legend(loc=leg_loc, bbox_to_anchor=leg_anchor, fontsize=9, frameon=True,
                    fancybox=False, edgecolor="black", framealpha=1, handlelength=2.0,
                    handletextpad=0.3, borderpad=0.3, labelspacing=0.25, borderaxespad=0)
    leg.get_frame().set_linewidth(1.4)
    leg.set_zorder(1.5)


ax_a = make_ax(28, 5, 330, 181)
panel(ax_a, [(a_c_t, a_c), (a_h_t, a_h), (a_u_t, a_u), (a_p_t, a_p)], (-1, 5), [-1, 0, 1, 2, 3, 4, 5],
      r"$\mu=0.288,\ \lambda=0.01$", -0.036, "upper left", (0.017, 0.972))
ax_b = make_ax(382, 5, 683, 181)
panel(ax_b, [(b_c_t, b_c), (b_h_t, b_h), (b_u_t, b_u), (b_p_t, b_p)], (-1, 5), [-1, 0, 1, 2, 3, 4, 5],
      r"$\mu=0.3,\ \lambda=0.1$", -0.058, "upper left", (0.017, 0.972))
ax_c = make_ax(28, 250, 330, 426)
panel(ax_c, [(c_c_t, c_c), (c_h_t, c_h), (c_u_t, c_u), (c_p_t, c_p)], (-1, 3), [-1, 0, 1, 2, 3],
      r"$\mu=0.288,\ \lambda=0.5$", -0.036, "upper left", (0.017, 0.972))
ax_d = make_ax(382, 250, 683, 426)
panel(ax_d, [(d_c_t, d_c), (d_h_t, d_h), (d_u_t, d_u), (d_p_t, d_p)], (-1, 5), [-1, 0, 1, 2, 3, 4, 5],
      r"$\mu=0.3,\ \lambda=0.5$", -0.058, "upper left", (0.017, 0.972))
ax_e = make_ax(28, 498, 330, 673)
panel(ax_e, [(e_c_t, e_c), (e_h_t, e_h), (e_u_t, e_u), (e_p_t, e_p)], (-1, 4), [-1, 0, 1, 2, 3, 4],
      r"$\mu=0.288,\ \lambda=2$", -0.036, "upper right", (0.977, 0.886))
ax_f = make_ax(382, 498, 683, 673)
panel(ax_f, [(f_c_t, f_c), (f_h_t, f_h), (f_u_t, f_u), (f_p_t, f_p)], (-2, 8), [-2, 0, 2, 4, 6, 8],
      r"$\mu=0.3,\ \lambda=1.3$", -0.055, "upper right", (0.983, 0.869))

# sub-figure captions
for cap, (cx, cy) in zip(["(a)", "(b)", "(c)", "(d)", "(e)", "(f)"],
                         [(165, 220), (514, 220), (165, 465), (514, 465), (165, 713), (514, 713)]):
    fig.text(cx / W, 1 - cy / H, cap, ha="center", va="center", fontsize=11.5,
             family="Liberation Serif")

fig.savefig("out.png", dpi=100)
